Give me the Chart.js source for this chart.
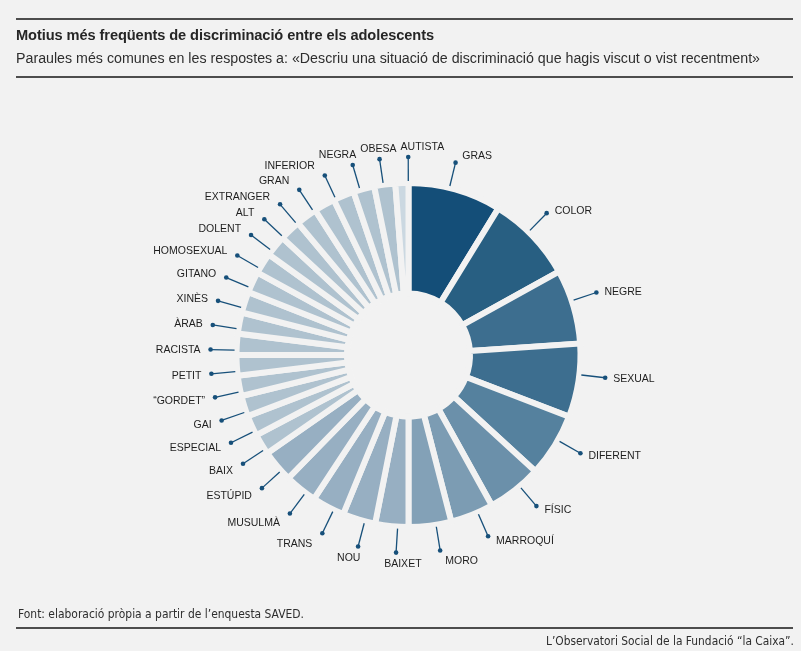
<!DOCTYPE html>
<html lang="ca">
<head>
<meta charset="utf-8">
<script src="https://cdn.jsdelivr.net/npm/chart.js@4.4.0/dist/chart.umd.min.js"></script>
<style>
  html, body { margin:0; padding:0; background:#f2f2f2; width:801px; height:651px; overflow:hidden; }
  #wrap { position:relative; width:801px; height:651px; }
  #c { position:absolute; left:0; top:0; }
  .rule { position:absolute; left:16px; width:777px; height:2px; background:#4d4d4d; }
  .txt { position:absolute; white-space:nowrap; transform-origin:0 0; line-height:16px; }
  #title { left:16px; top:26px; font:bold 15.5px "Liberation Sans",Arial,sans-serif; color:#262626; letter-spacing:-0.1px; }
  #subtitle { left:16px; top:48.5px; font:15.5px "Liberation Sans",Arial,sans-serif; color:#2e2e2e; }
  #source { left:18px; top:606px; font:12.5px "Liberation Sans Narrow","DejaVu Sans Condensed","Liberation Sans",sans-serif; color:#2e2e2e; }
  #credit { left:546px; top:633px; font:12.5px "Liberation Sans Narrow","DejaVu Sans Condensed","Liberation Sans",sans-serif; color:#2e2e2e; }
</style>
</head>
<body>
<div id="wrap">
  <canvas id="c" width="801" height="651"></canvas>
  <div class="rule" style="top:18px"></div>
  <div class="txt" id="title">Motius més freqüents de discriminació entre els adolescents</div>
  <div class="txt" id="subtitle">Paraules més comunes en les respostes a: «Descriu una situació de discriminació que hagis viscut o vist recentment»</div>
  <div class="rule" style="top:76px"></div>
  <div class="txt" id="source">Font: elaboració pròpia a partir de l’enquesta SAVED.</div>
  <div class="rule" style="top:627px"></div>
  <div class="txt" id="credit">L’Observatori Social de la Fundació “la Caixa”.</div>
</div>
<script>
// ---- data ----
const categories = ["GRAS","COLOR","NEGRE","SEXUAL","DIFERENT","FÍSIC","MARROQUÍ","MORO",
  "BAIXET","NOU","TRANS","MUSULMÀ","ESTÚPID","BAIX","ESPECIAL","GAI","“GORDET”","PETIT",
  "RACISTA","ÀRAB","XINÈS","GITANO","HOMOSEXUAL","DOLENT","ALT","EXTRANGER","GRAN",
  "INFERIOR","NEGRA","OBESA","AUTISTA"];
const freq = [31.5,29.5,25.2,24.8,21.5,18.5,14.6,14.4,
  11.2,11.1,11.0,11.0,10.9,7.0,7.0,7.0,6.9,6.9,
  7.15,7.15,7.15,7.15,7.15,7.15,7.15,7.15,7.1,
  7.1,7.1,7.1,4.4];
const sliceColors = ["#144e78","#285f82","#3d6e8f","#3d6e8f","#55819e","#6b90aa","#7c9cb3","#83a1b7",
  "#97afc2","#97afc2","#97afc2","#97afc2","#97afc2","#afc2cf","#afc2cf","#afc2cf","#afc2cf","#afc2cf",
  "#afc2cf","#afc2cf","#afc2cf","#afc2cf","#afc2cf","#afc2cf","#afc2cf","#afc2cf","#afc2cf",
  "#afc2cf","#afc2cf","#afc2cf","#cbd8e1"];

// ---- fit header/footer text widths ----
function fitText(id, target) {
  const el = document.getElementById(id);
  const w = el.getBoundingClientRect().width;
  if (w > 0) el.style.transform = "scaleX(" + (target / w) + ")";
}
fitText("title", 418);
fitText("subtitle", 744);
fitText("source", 286);
fitText("credit", 248);

// ---- label plugin ----
const LABEL_FONT = '10.5px "Liberation Sans", Arial, sans-serif';
const LABEL_SHIFT = -2 * Math.PI / 180;
const labelPlugin = {
  id: "arcLabels",
  afterDatasetsDraw(chart) {
    const meta = chart.getDatasetMeta(0);
    const arcs = meta.data;
    if (!arcs.length) return;
    const ctx = chart.ctx;
    const cx = arcs[0].x, cy = arcs[0].y;
    const rIn = arcs[0].outerRadius + 2;
    const rDot = arcs[0].outerRadius + 26;
    ctx.save();
    ctx.font = LABEL_FONT;
    const items = arcs.map((a, i) => ({
      i, ang: (a.startAngle + a.endAngle) / 2 + LABEL_SHIFT,
      text: chart.data.labels[i],
      w: ctx.measureText(chart.data.labels[i]).width
    }));
    const clamp = (v, a, b) => Math.max(a, Math.min(b, v));
    function layout(it) {
      const dx = Math.cos(it.ang), dy = Math.sin(it.ang);
      const px = cx + dx * rDot, py = cy + dy * rDot;
      const t = clamp((0.1 - dx) / 0.5, 0, 1);
      const padL = Math.min(8, 2 + 20 * Math.max(dx, 0));
      const padR = Math.min(10, 2 + 20 * Math.max(-dx, 0));
      const left = px + (1 - t) * padL - t * (it.w + padR);
      const k = dx > 0.1 ? 11 - 7 * clamp((dx - 0.1) / 0.3, 0, 1) : 11;
      const yc = py + dy * k;
      return { dx, dy, px, py, left, yc, right: left + it.w, top: yc - 5.5, bottom: yc + 5.5 };
    }
    function overlap(a, b, pad) {
      return !(a.right + pad < b.left || b.right + pad < a.left ||
               a.bottom + pad < b.top || b.bottom + pad < a.top);
    }
    for (let iter = 0; iter < 400; iter++) {
      let moved = false;
      for (let k = 0; k < items.length; k++) {
        const a = items[k], b = items[(k + 1) % items.length];
        if (overlap(layout(a), layout(b), 4)) {
          a.ang -= 0.003; b.ang += 0.003; moved = true;
        }
      }
      if (!moved) break;
    }
    const ink = "#17507a";
    items.forEach(it => {
      const L = layout(it);
      ctx.strokeStyle = ink;
      ctx.lineWidth = 1.3;
      ctx.beginPath();
      ctx.moveTo(cx + L.dx * rIn, cy + L.dy * rIn);
      ctx.lineTo(L.px, L.py);
      ctx.stroke();
      ctx.fillStyle = ink;
      ctx.beginPath();
      ctx.arc(L.px, L.py, 2.3, 0, Math.PI * 2);
      ctx.fill();
      ctx.fillStyle = "#1e1e1e";
      ctx.textAlign = "left";
      ctx.textBaseline = "alphabetic";
      ctx.fillText(it.text, L.left, L.yc + 3.8);
    });
    ctx.restore();
  }
};

new Chart(document.getElementById("c"), {
  type: "doughnut",
  data: {
    labels: categories,
    datasets: [{
      data: freq,
      backgroundColor: sliceColors,
      borderColor: "#f2f2f2",
      borderWidth: 6,
      borderAlign: "center",
      borderJoinStyle: "miter",
      hoverOffset: 0
    }]
  },
  options: {
    responsive: false,
    animation: false,
    devicePixelRatio: 1,
    radius: 172,
    cutout: "35.76%",
    events: [],
    layout: { padding: { left: 16, right: 0, top: 80, bottom: 21 } },
    plugins: { legend: { display: false }, tooltip: { enabled: false } }
  },
  plugins: [labelPlugin]
});
</script>
</body>
</html>
